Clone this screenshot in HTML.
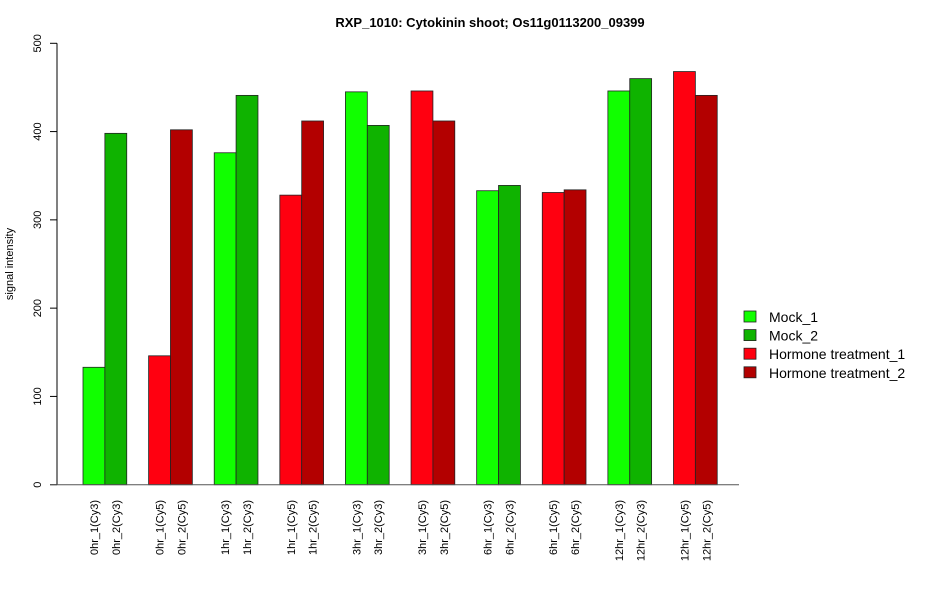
<!DOCTYPE html>
<html><head><meta charset="utf-8"><style>
body{margin:0;background:#fff;}
svg{display:block;font-family:"Liberation Sans",Arial,sans-serif;}
</style></head><body>
<svg id="chart" width="950" height="600">
<text x="490" y="27" text-anchor="middle" font-weight="bold" font-size="13">RXP_1010: Cytokinin shoot; Os11g0113200_09399</text>
<text transform="translate(13,264) rotate(-90)" text-anchor="middle" font-size="11">signal intensity</text>
<g id="yaxis"></g>
<g id="bars"></g>
<g id="xlabels"></g>
<g id="legend"></g>
</svg>
<script>
const categories=["0hr_1(Cy3)","0hr_2(Cy3)","0hr_1(Cy5)","0hr_2(Cy5)","1hr_1(Cy3)","1hr_2(Cy3)","1hr_1(Cy5)","1hr_2(Cy5)","3hr_1(Cy3)","3hr_2(Cy3)","3hr_1(Cy5)","3hr_2(Cy5)","6hr_1(Cy3)","6hr_2(Cy3)","6hr_1(Cy5)","6hr_2(Cy5)","12hr_1(Cy3)","12hr_2(Cy3)","12hr_1(Cy5)","12hr_2(Cy5)"];
const values=[133,398,146,402,376,441,328,412,445,407,446,412,333,339,331,334,446,460,468,441];
const seriesIdx=[0,1,2,3,0,1,2,3,0,1,2,3,0,1,2,3,0,1,2,3];
const seriesNames=["Mock_1","Mock_2","Hormone treatment_1","Hormone treatment_2"];
const colors=["#11ff00","#0fb300","#ff0010","#b30000"];
const yTicks=[0,100,200,300,400,500];
const NS="http://www.w3.org/2000/svg";
const y0=484.7, yScale=441.4/500;
function yPos(v){return y0-v*yScale;}
const bw=21.87;
function xPos(i){const pair=Math.floor(i/2);return 83+pair*3*bw+(i%2)*bw;}
function mk(tag,attrs,parent){const e=document.createElementNS(NS,tag);for(const k in attrs)e.setAttribute(k,attrs[k]);parent.appendChild(e);return e;}
const ya=document.getElementById('yaxis');
let l=mk('line',{x1:57,x2:57,y1:yPos(0),y2:yPos(500),stroke:'#000'},ya);


yTicks.forEach(t=>{
 const tk=mk('line',{x1:50,x2:57,y1:yPos(t),y2:yPos(t),stroke:'#000'},ya);
 
 
 const tx=mk('text',{transform:`translate(41,${yPos(t)}) rotate(-90)`,'text-anchor':'middle','font-size':11},ya);
 tx.textContent=t;
 
 
});
const bg=document.getElementById('bars');
values.forEach((v,i)=>{
 const r=mk('rect',{x:xPos(i),y:yPos(v),width:bw,height:yPos(0)-yPos(v),fill:colors[seriesIdx[i]],stroke:'#222','stroke-width':0.8},bg);
 
 
});
const base=mk('line',{x1:50,x2:739,y1:y0,y2:y0,stroke:'#555'},bg);


const xl=document.getElementById('xlabels');
categories.forEach((c,i)=>{
 const cx=xPos(i)+bw/2+4;
 const t=mk('text',{transform:`translate(${cx},500) rotate(-90)`,'text-anchor':'end','font-size':11},xl);
 t.textContent=c;
 
 
});
const lg=document.getElementById('legend');
seriesNames.forEach((n,i)=>{
 const yy=317+i*18.6;
 const r=mk('rect',{x:744,y:yy-6,width:12,height:11,fill:colors[i],stroke:'#222','stroke-width':0.8},lg);
 
 
 const t=mk('text',{x:769,y:yy+5,'font-size':14},lg);
 t.textContent=n;
 
 
});
</script>
</body></html>
